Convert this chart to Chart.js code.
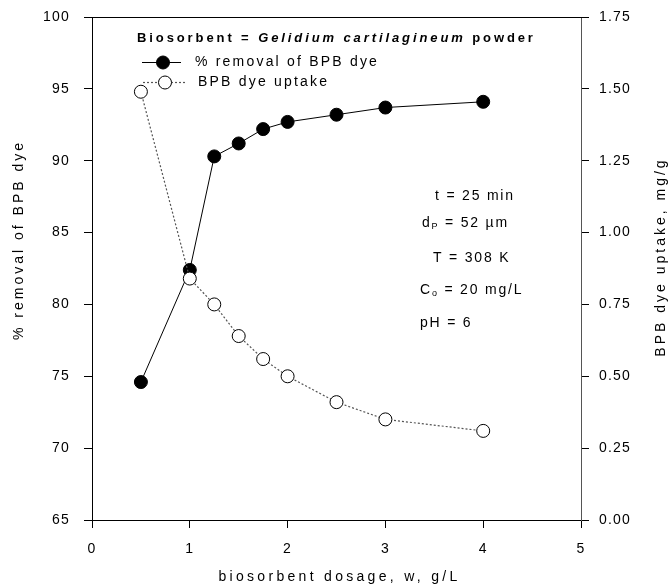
<!DOCTYPE html>
<html>
<head>
<meta charset="utf-8">
<script src="https://cdn.jsdelivr.net/npm/chart.js@4/dist/chart.umd.min.js"></script>
<style>
  html, body { margin: 0; padding: 0; background: #fff; }
  #wrap { width: 671px; height: 586px; }
</style>
</head>
<body>
<div id="wrap"><canvas id="myChart" width="671" height="586"></canvas></div>
<script>
// biosorbent dosage (g/L)
const dosage = [0.5, 1, 1.25, 1.5, 1.75, 2, 2.5, 3, 4];
// % removal of BPB dye (left axis)
const removal = [74.6, 82.4, 90.3, 91.2, 92.2, 92.7, 93.2, 93.7, 94.1];
// BPB dye uptake, mg/g (right axis)
const uptake = [1.49, 0.84, 0.75, 0.64, 0.56, 0.50, 0.41, 0.35, 0.31];

// axis ranges / tick steps
const xRange = [0, 5, 1];
const leftRange = [65, 100, 5];
const rightRange = [0, 1.75, 0.25];

const xTitle = 'biosorbent dosage, w, g/L';
const leftTitle = '% removal of BPB dye';
const rightTitle = 'BPB dye uptake, mg/g';
const legendLabels = ['% removal of BPB dye', 'BPB dye uptake'];

const FONT = 'Liberation Sans, Arial, sans-serif';

// write text with different fonts / sub-scripts in a row
function richText(ctx, parts, x, y, spacing) {
    ctx.save();
    ctx.letterSpacing = spacing + 'px';
    ctx.textBaseline = 'middle';
    ctx.textAlign = 'left';
    ctx.fillStyle = '#000';
    let cx = x;
    parts.forEach(function(p) {
        ctx.font = p.font;
        ctx.fillText(p.t, cx, y + (p.dy || 0));
        cx += ctx.measureText(p.t).width;
    });
    ctx.restore();
}

// rotated / centered title
function titleText(ctx, text, x, y, rot, spacing) {
    ctx.save();
    ctx.translate(x, y);
    ctx.rotate(rot);
    ctx.font = '14px ' + FONT;
    ctx.letterSpacing = spacing + 'px';
    ctx.fillStyle = '#000';
    ctx.textAlign = 'center';
    ctx.textBaseline = 'middle';
    ctx.fillText(text, 0, 0);
    ctx.restore();
}

// letter spacing for the tick labels
const spacingPlugin = {
    id: 'spacing',
    beforeLayout(chart) { chart.ctx.letterSpacing = '1.2px'; },
    beforeDraw(chart) { chart.ctx.letterSpacing = '1.2px'; }
};

// frame top line, legend, conditions text, axis titles
const extras = {
    id: 'extras',
    afterDraw(chart) {
        const ctx = chart.ctx;
        const a = chart.chartArea;
        ctx.save();
        // top frame line
        ctx.strokeStyle = '#000';
        ctx.lineWidth = 1;
        ctx.beginPath();
        ctx.moveTo(a.left - 8, a.top + 0.5);
        ctx.lineTo(a.right + 8, a.top + 0.5);
        ctx.stroke();

        // legend title
        const b13 = 'bold 13px ' + FONT;
        const bi13 = 'italic bold 13px ' + FONT;
        richText(ctx, [
            {t: 'Biosorbent = ', font: b13},
            {t: 'Gelidium cartilagineum', font: bi13},
            {t: ' powder', font: b13}
        ], 137, 38, 2.9);

        // legend symbols
        const ds = chart.data.datasets;
        const rows = [{y: 62, x1: 142, x2: 181, cx: 163, tx: 195, d: ds[1]},
                      {y: 82, x1: 143, x2: 187, cx: 165, tx: 198, d: ds[0]}];
        rows.forEach(function(r) {
            ctx.save();
            ctx.strokeStyle = r.d.borderColor;
            ctx.lineWidth = r.d.borderWidth;
            ctx.setLineDash(r.d.borderDash || []);
            ctx.beginPath();
            ctx.moveTo(r.x1, r.y + 0.5);
            ctx.lineTo(r.x2, r.y + 0.5);
            ctx.stroke();
            ctx.setLineDash([]);
            ctx.beginPath();
            ctx.arc(r.cx, r.y + 0.5, r.d.pointRadius, 0, Math.PI * 2);
            ctx.fillStyle = r.d.pointBackgroundColor;
            ctx.fill();
            ctx.strokeStyle = r.d.pointBorderColor;
            ctx.lineWidth = 1;
            ctx.stroke();
            ctx.restore();
            richText(ctx, [{t: r.d.label, font: '14px ' + FONT}], r.tx, r.y, 2.2);
        });

        // conditions
        const n14 = '14px ' + FONT;
        const s9 = '9px ' + FONT;
        richText(ctx, [{t: 't = 25 min', font: n14}], 435, 196, 1.8);
        richText(ctx, [{t: 'd', font: n14}, {t: 'P', font: s9, dy: 4}, {t: ' = 52 \u00b5m', font: n14}], 422, 223, 1.8);
        richText(ctx, [{t: 'T = 308 K', font: n14}], 433, 258, 1.8);
        richText(ctx, [{t: 'C', font: n14}, {t: 'o', font: s9, dy: 4}, {t: ' = 20 mg/L', font: n14}], 420, 290, 1.8);
        richText(ctx, [{t: 'pH = 6', font: n14}], 420, 323, 1.8);

        // axis titles
        titleText(ctx, xTitle, (a.left + a.right) / 2 + 3, 577, 0, 3.3);
        titleText(ctx, leftTitle, 19, 240, -Math.PI / 2, 3);
        titleText(ctx, rightTitle, 661, 257, -Math.PI / 2, 3);

        ctx.restore();
    }
};

const tickFont = {family: FONT, size: 14};

function axisGrid() {
    return {drawOnChartArea: false, drawTicks: true, tickLength: 8, color: '#000', lineWidth: 1};
}

// y axes: fixed width, no extra top/bottom padding from the labels
function fitY(width) {
    return function(s) {
        s.width = width;
        s.paddingTop = 0;
        s.paddingBottom = 0;
    };
}

const ctx = document.getElementById('myChart');
const chart = new Chart(ctx, {
    type: 'line',
    data: {
        datasets: [
            {
                label: legendLabels[1],
                data: dosage.map(function(x, i) { return {x: x, y: uptake[i]}; }),
                yAxisID: 'y2',
                borderColor: '#555',
                borderWidth: 1.2,
                borderDash: [2, 2],
                pointRadius: 6.5,
                pointBackgroundColor: '#fff',
                pointBorderColor: '#000',
                pointBorderWidth: 1,
                tension: 0,
                order: 1
            },
            {
                label: legendLabels[0],
                data: dosage.map(function(x, i) { return {x: x, y: removal[i]}; }),
                yAxisID: 'y',
                borderColor: '#000',
                borderWidth: 1,
                pointRadius: 6.5,
                pointBackgroundColor: '#000',
                pointBorderColor: '#000',
                pointBorderWidth: 1,
                tension: 0,
                order: 2
            }
        ]
    },
    options: {
        responsive: false,
        animation: false,
        devicePixelRatio: 1,
        layout: {padding: {top: 17, left: 0, right: 0, bottom: 0}},
        plugins: {legend: {display: false}, tooltip: {enabled: false}},
        scales: {
            x: {
                type: 'linear', min: xRange[0], max: xRange[1],
                ticks: {stepSize: xRange[2], font: tickFont, color: '#000', padding: 13},
                grid: axisGrid(),
                border: {color: '#000', width: 1},
                afterFit: function(s) { s.height = 66; }
            },
            y: {
                position: 'left', min: leftRange[0], max: leftRange[1],
                ticks: {stepSize: leftRange[2], font: tickFont, color: '#000', padding: 14},
                grid: axisGrid(),
                border: {color: '#000', width: 1},
                afterFit: fitY(92)
            },
            y2: {
                position: 'right', min: rightRange[0], max: rightRange[1],
                ticks: {stepSize: rightRange[2], font: tickFont, color: '#000', padding: 10,
                        callback: function(v) { return v.toFixed(2); }},
                grid: axisGrid(),
                border: {color: '#555', width: 1},
                afterFit: fitY(90)
            }
        }
    },
    plugins: [spacingPlugin, extras]
});
</script>
</body>
</html>
